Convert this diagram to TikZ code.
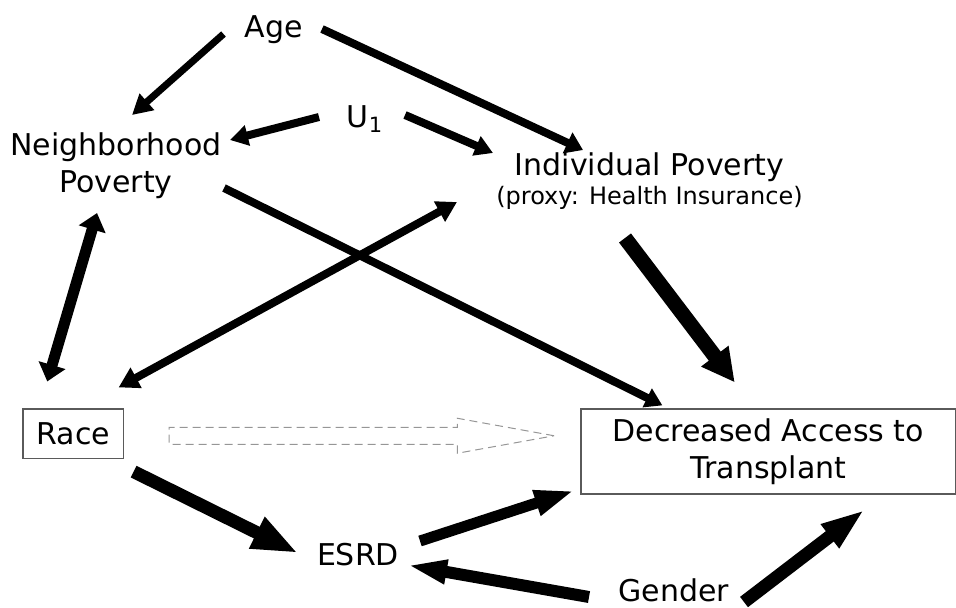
\documentclass[tikz,border=0pt]{standalone}
\usepackage{fontspec}
\setmainfont{DejaVu Sans}
\usetikzlibrary{arrows.meta,shapes.arrows}
\definecolor{BoxGray}{RGB}{90,90,90}
\definecolor{DashGray}{RGB}{150,150,150}
\tikzset{
  lbl/.style={inner sep=0pt, anchor=base, font=\fontsize{15pt}{18.5pt}\selectfont},
  box/.style={draw=BoxGray, line width=0.6pt, inner sep=0pt, font=\fontsize{15pt}{18.5pt}\selectfont},
  effect/.style n args={3}{line width=#1, -{Triangle[length=#2,width=#3]}},
  mutual/.style n args={3}{line width=#1, {Triangle[length=#2,width=#3]}-{Triangle[length=#2,width=#3]}},
  hollow/.style={single arrow, draw=DashGray, dash pattern=on 4pt off 2.5pt, line width=0.5pt,
    inner xsep=0pt, inner ysep=4pt, minimum height=192.5pt,
    single arrow head extend=4.5pt, single arrow tip angle=20.5},
}

\begin{document}
\begin{tikzpicture}[x=0.5pt,y=-0.5pt]
  \useasboundingbox (0,0) rectangle (956,607);
  % variables
  \node[lbl] (age) at (273.5,37) {Age};
  \node[lbl] (u1) at (365,127) {U\textsubscript{1}};
  \node[lbl, align=center] (nbh) at (116,192) {Neighborhood\\Poverty};
  \node[lbl] (ind) at (649.5,175) {Individual Poverty};
  \node[lbl, font=\fontsize{12pt}{14pt}\selectfont] (proxy) at (649.5,204) {(proxy: Health Insurance)};
  \node[box, minimum width=50.25pt, minimum height=24.75pt] (race) at (73.25,433.75) {Race};
  \node[box, align=center, minimum width=187.25pt, minimum height=42.5pt] (dec) at (768.25,451.5) {Decreased Access to\\Transplant};
  \node[lbl] (esrd) at (358,565) {ESRD};
  \node[lbl] (gender) at (674,601) {Gender};
  % effects
  \draw[effect={3.5pt}{10pt}{10.5pt}] ([shift={(-50,-3)}]age.base) -- ([shift={(16,-77)}]nbh.base);
  \draw[effect={4pt}{8.5pt}{11pt}] ([shift={(48.5,-8)}]age.base) -- ([shift={(-66.5,-25)}]ind.base);
  \draw[effect={4pt}{9pt}{10pt}] ([shift={(-46,-10)}]u1.base) -- ([shift={(114,-52)}]nbh.base);
  \draw[effect={4pt}{9pt}{10pt}] ([shift={(40,-12)}]u1.base) -- ([shift={(-156.5,-22)}]ind.base);
  \draw[effect={4pt}{8.5pt}{10pt}] ([shift={(108,-4)}]nbh.base) -- ([shift={(82,-3)}]dec.north west);
  \draw[mutual={4pt}{10pt}{11pt}] ([shift={(-5.5,-21)}]race.north east) -- ([shift={(-192.5,27)}]ind.base);
  \draw[mutual={5.5pt}{8.5pt}{13.5pt}] ([shift={(-26,-27)}]race.north) -- ([shift={(-19,21)}]nbh.base);
  \draw[effect={7.5pt}{16.5pt}{16pt}] ([shift={(-24.5,63)}]ind.base) -- ([shift={(-33.5,-26)}]dec.north);
  \draw[effect={6.5pt}{23pt}{16pt}] ([shift={(9.5,12.5)}]race.south east) -- ([shift={(-60,-12)}]esrd.base);
  \draw[effect={5.5pt}{20pt}{12pt}] ([shift={(62,-24)}]esrd.base) -- ([shift={(-6,-4)}]dec.south west);
  \draw[effect={6pt}{20pt}{11pt}] ([shift={(-85,-4)}]gender.base) -- ([shift={(49,0)}]esrd.base);
  \draw[effect={6.5pt}{22pt}{13.5pt}] ([shift={(70,1)}]gender.base) -- ([shift={(96.5,15)}]dec.south);
  % hypothesised path
  \node[hollow, anchor=tail] (hint) at ([shift={(44.5,2)}]race.east) {};
\end{tikzpicture}
\end{document}
